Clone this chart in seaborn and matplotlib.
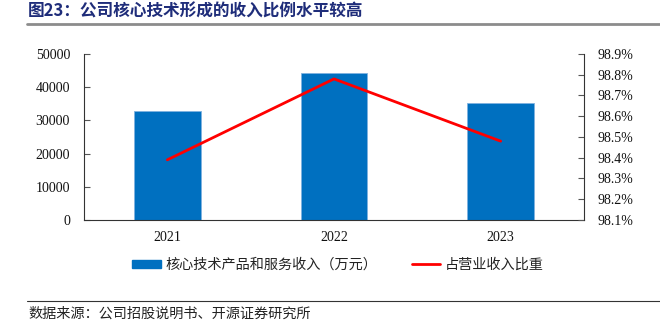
import matplotlib
matplotlib.use("Agg")
import matplotlib.pyplot as plt
import seaborn as sns
import pandas as pd
from matplotlib.patches import Patch
from matplotlib.lines import Line2D
from matplotlib.ticker import FuncFormatter, MultipleLocator

years = ["2021", "2022", "2023"]
core_revenue = [32900, 44200, 35300]          # 万元
revenue_share = [98.39, 98.78, 98.48]         # %

title = "图23：公司核心技术形成的收入比例水平较高"
bar_label = "核心技术产品和服务收入（万元）"
line_label = "占营业收入比重"
source = "数据来源：公司招股说明书、开源证券研究所"

sns.set_theme(style="white")
plt.rcParams["font.family"] = ["Liberation Serif", "Noto Sans CJK SC", "DejaVu Sans"]
cjk = ["Noto Sans CJK SC", "DejaVu Sans"]

df = pd.DataFrame({"year": years, "rev": core_revenue, "share": revenue_share})

fig = plt.figure(figsize=(6.6, 3.28), dpi=100)
ax = fig.add_axes([84/660, 1-220/328, 500/660, 166/328])

bar_color = "#0070C0"
sns.barplot(data=df, x="year", y="rev", ax=ax, color=bar_color, width=0.4,
            saturation=1, edgecolor="#7FB2E0", linewidth=0.6)
ax.set_xlim(-0.5, 2.5)
ax.set_ylim(0, 50000)
ax.yaxis.set_major_locator(MultipleLocator(10000))
ax.set_xlabel("")
ax.set_ylabel("")

ax2 = ax.twinx()
sns.lineplot(x=list(range(len(years))), y=revenue_share, ax=ax2, color="#FF0000", linewidth=2)
ax2.set_ylim(98.1, 98.9)
ax2.yaxis.set_major_locator(MultipleLocator(0.1))
ax2.yaxis.set_major_formatter(FuncFormatter(lambda v, p: f"{v:.1f}%"))
ax2.set_xlim(-0.5, 2.5)

for a in (ax, ax2):
    for s in a.spines.values():
        s.set_color("#333333")
        s.set_linewidth(0.8)
    a.spines["top"].set_visible(False)
    a.grid(False)

ax.spines["right"].set_visible(False)
ax2.spines["left"].set_visible(False)
ax2.spines["bottom"].set_visible(False)

ax.set_xticks([0.5, 1.5], minor=False)
ax.set_xticklabels([])
ax.set_xticks([0, 1, 2], minor=True)
ax.set_xticklabels(years, minor=True)
ax.tick_params(axis="x", which="major", direction="in", length=4, width=0.8, color="#555555")
ax.tick_params(axis="x", which="minor", length=0, labelsize=10, pad=8, colors="#111111")
ax.tick_params(axis="y", direction="in", length=4, width=0.8, color="#555555",
               labelsize=10, pad=10, colors="#111111", left=True)
ax2.tick_params(axis="y", direction="in", length=4, width=0.8, color="#555555",
                labelsize=10, pad=10, colors="#111111", right=True)
for lbl in ax.get_xticklabels(minor=True) + ax.get_yticklabels() + ax2.get_yticklabels():
    lbl.set_color("#111111")

# title and rules
fig.text(28/660, 1-12/328, title, fontsize=12, fontweight="bold", color="#1F2D7A",
         family=["Noto Sans CJK SC", "DejaVu Sans"], va="center", ha="left")
fig.add_artist(Line2D([27/660, 1.0], [1-24/328, 1-24/328], color="#8C8C8C", linewidth=2))
fig.add_artist(Line2D([27/660, 1.0], [1-301/328, 1-301/328], color="#333333", linewidth=0.8))
fig.text(28/660, 1-314/328, source, fontsize=10.2, color="#222222", family=cjk,
         va="center", ha="left")

handles = [Patch(facecolor=bar_color, edgecolor=bar_color),
           Line2D([0], [0], color="#FF0000", linewidth=2)]
leg = fig.legend(handles, [bar_label, line_label], loc="center", ncol=2,
                 bbox_to_anchor=(338/660, 1-265/328), frameon=False,
                 handlelength=2.0, handleheight=0.55, columnspacing=2.4, handletextpad=0.35,
                 prop={"family": cjk, "size": 10.2})
for t in leg.get_texts():
    t.set_color("#222222")

fig.savefig("out.png", dpi=100)
